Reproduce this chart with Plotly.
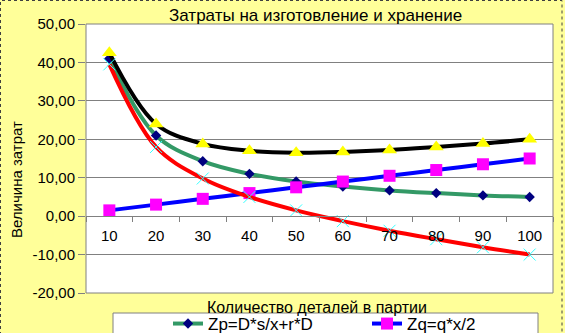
import plotly.graph_objects as go

# ---- data ----
parts = [10, 20, 30, 40, 50, 60, 70, 80, 90, 100]
zp = [41.0, 21.0, 14.3, 11.0, 9.0, 7.7, 6.7, 6.0, 5.4, 5.0]
zq = [1.5, 3.0, 4.5, 6.0, 7.5, 9.0, 10.5, 12.0, 13.5, 15.0]
z_total = [42.5, 24.0, 18.8, 17.0, 16.5, 16.7, 17.2, 18.0, 18.9, 20.0]
z_diff = [39.5, 18.0, 9.8, 5.0, 1.5, -1.3, -3.8, -6.0, -8.1, -10.0]
y_ticks = [-20, -10, 0, 10, 20, 30, 40, 50]
y_tick_text = ["-20,00", "-10,00", "0,00", "10,00", "20,00", "30,00", "40,00", "50,00"]
x_labels = [str(v) for v in parts]

title_text = "Затраты на изготовление и хранение"
y_title = "Величина затрат"
x_title = "Количество деталей в партии"

FONT = "Liberation Sans, Arial, sans-serif"
W, H = 565, 333
L, R, T, B = 86, 12, 24, 40
PW, PH = W - L - R, H - T - B


def px_x(px):
    return (px - L) / PW


def px_y(py):
    return (H - B - py) / PH


fig = go.Figure()
fig.add_trace(go.Scatter(
    x=x_labels, y=zp, name="Zp=D*s/x+r*D", mode="lines+markers",
    line=dict(color="#339966", width=4, shape="spline"),
    marker=dict(symbol="diamond", size=8, color="#000080"),
    legend="legend"))
fig.add_trace(go.Scatter(
    x=x_labels, y=zq, name="Zq=q*x/2", mode="lines+markers",
    line=dict(color="#0000FF", width=4, shape="spline"),
    marker=dict(symbol="square", size=12, color="#FF00FF"),
    legend="legend2"))
fig.add_trace(go.Scatter(
    x=x_labels, y=z_total, name="Z=Zp+Zq", mode="lines+markers",
    line=dict(color="#000000", width=4, shape="spline"),
    marker=dict(symbol="triangle-up", size=13, color="#FFFF00"),
    showlegend=False))
fig.add_trace(go.Scatter(
    x=x_labels, y=z_diff, name="Zp-Zq", mode="lines+markers",
    line=dict(color="#FF0000", width=4, shape="spline"),
    marker=dict(symbol="x-thin", size=12, line=dict(color="#33FFFF", width=1)),
    showlegend=False))

shapes = [
    # legend box (cut off at the bottom like the reference)
    dict(type="rect", xref="paper", yref="paper",
         x0=px_x(113), x1=px_x(538), y0=px_y(345), y1=px_y(313),
         fillcolor="white", line=dict(color="#808080", width=1), layer="below"),
    # plot border
    dict(type="rect", xref="paper", yref="paper", x0=0, x1=1, y0=0, y1=1,
         line=dict(color="#808080", width=1), layer="above"),
    # outer chart border
    dict(type="rect", xref="paper", yref="paper",
         x0=px_x(0.5), x1=px_x(562), y0=px_y(340), y1=px_y(0.5),
         line=dict(color="#404040", width=1, dash="dot"), layer="below"),
]

annotations = [
    dict(text=title_text, xref="paper", yref="paper", x=px_x(315), y=px_y(15.5),
         xanchor="center", yanchor="middle", showarrow=False,
         font=dict(family=FONT, size=17, color="black")),
    dict(text=x_title, xref="paper", yref="paper", x=px_x(317), y=px_y(307),
         xanchor="center", yanchor="middle", showarrow=False,
         font=dict(family=FONT, size=16, color="black")),
    dict(text=y_title, xref="paper", yref="paper", x=px_x(16), y=px_y(180),
         xanchor="center", yanchor="middle", showarrow=False, textangle=-90,
         font=dict(family=FONT, size=15, color="black")),
]

fig.update_layout(
    width=W, height=H,
    margin=dict(l=L, r=R, t=T, b=B, autoexpand=False),
    paper_bgcolor="#FFFF99", plot_bgcolor="white",
    font=dict(family=FONT, size=15, color="black"),
    shapes=shapes, annotations=annotations,
    legend=dict(x=px_x(168), y=px_y(306), xanchor="left", yanchor="top",
                bgcolor="rgba(0,0,0,0)", borderwidth=0,
                font=dict(family=FONT, size=17, color="black")),
    legend2=dict(x=px_x(367), y=px_y(306), xanchor="left", yanchor="top",
                 bgcolor="rgba(0,0,0,0)", borderwidth=0,
                 font=dict(family=FONT, size=17, color="black")),
    xaxis=dict(type="category", range=[-0.5, 9.5], anchor="free",
               position=(0 - (-20)) / 70,
               showline=True, linecolor="#808080", linewidth=1,
               ticks="outside", tickson="boundaries", ticklen=5,
               tickcolor="#808080", ticklabelstandoff=6,
               showgrid=False, tickfont=dict(size=15)),
    yaxis=dict(range=[-20, 50], tickvals=y_ticks, ticktext=y_tick_text,
               ticks="outside", ticklen=7, tickcolor="#808080",
               showgrid=True, gridcolor="#808080", gridwidth=1,
               zeroline=False, showline=False, tickfont=dict(size=15)),
)

fig.write_html("out.html")
